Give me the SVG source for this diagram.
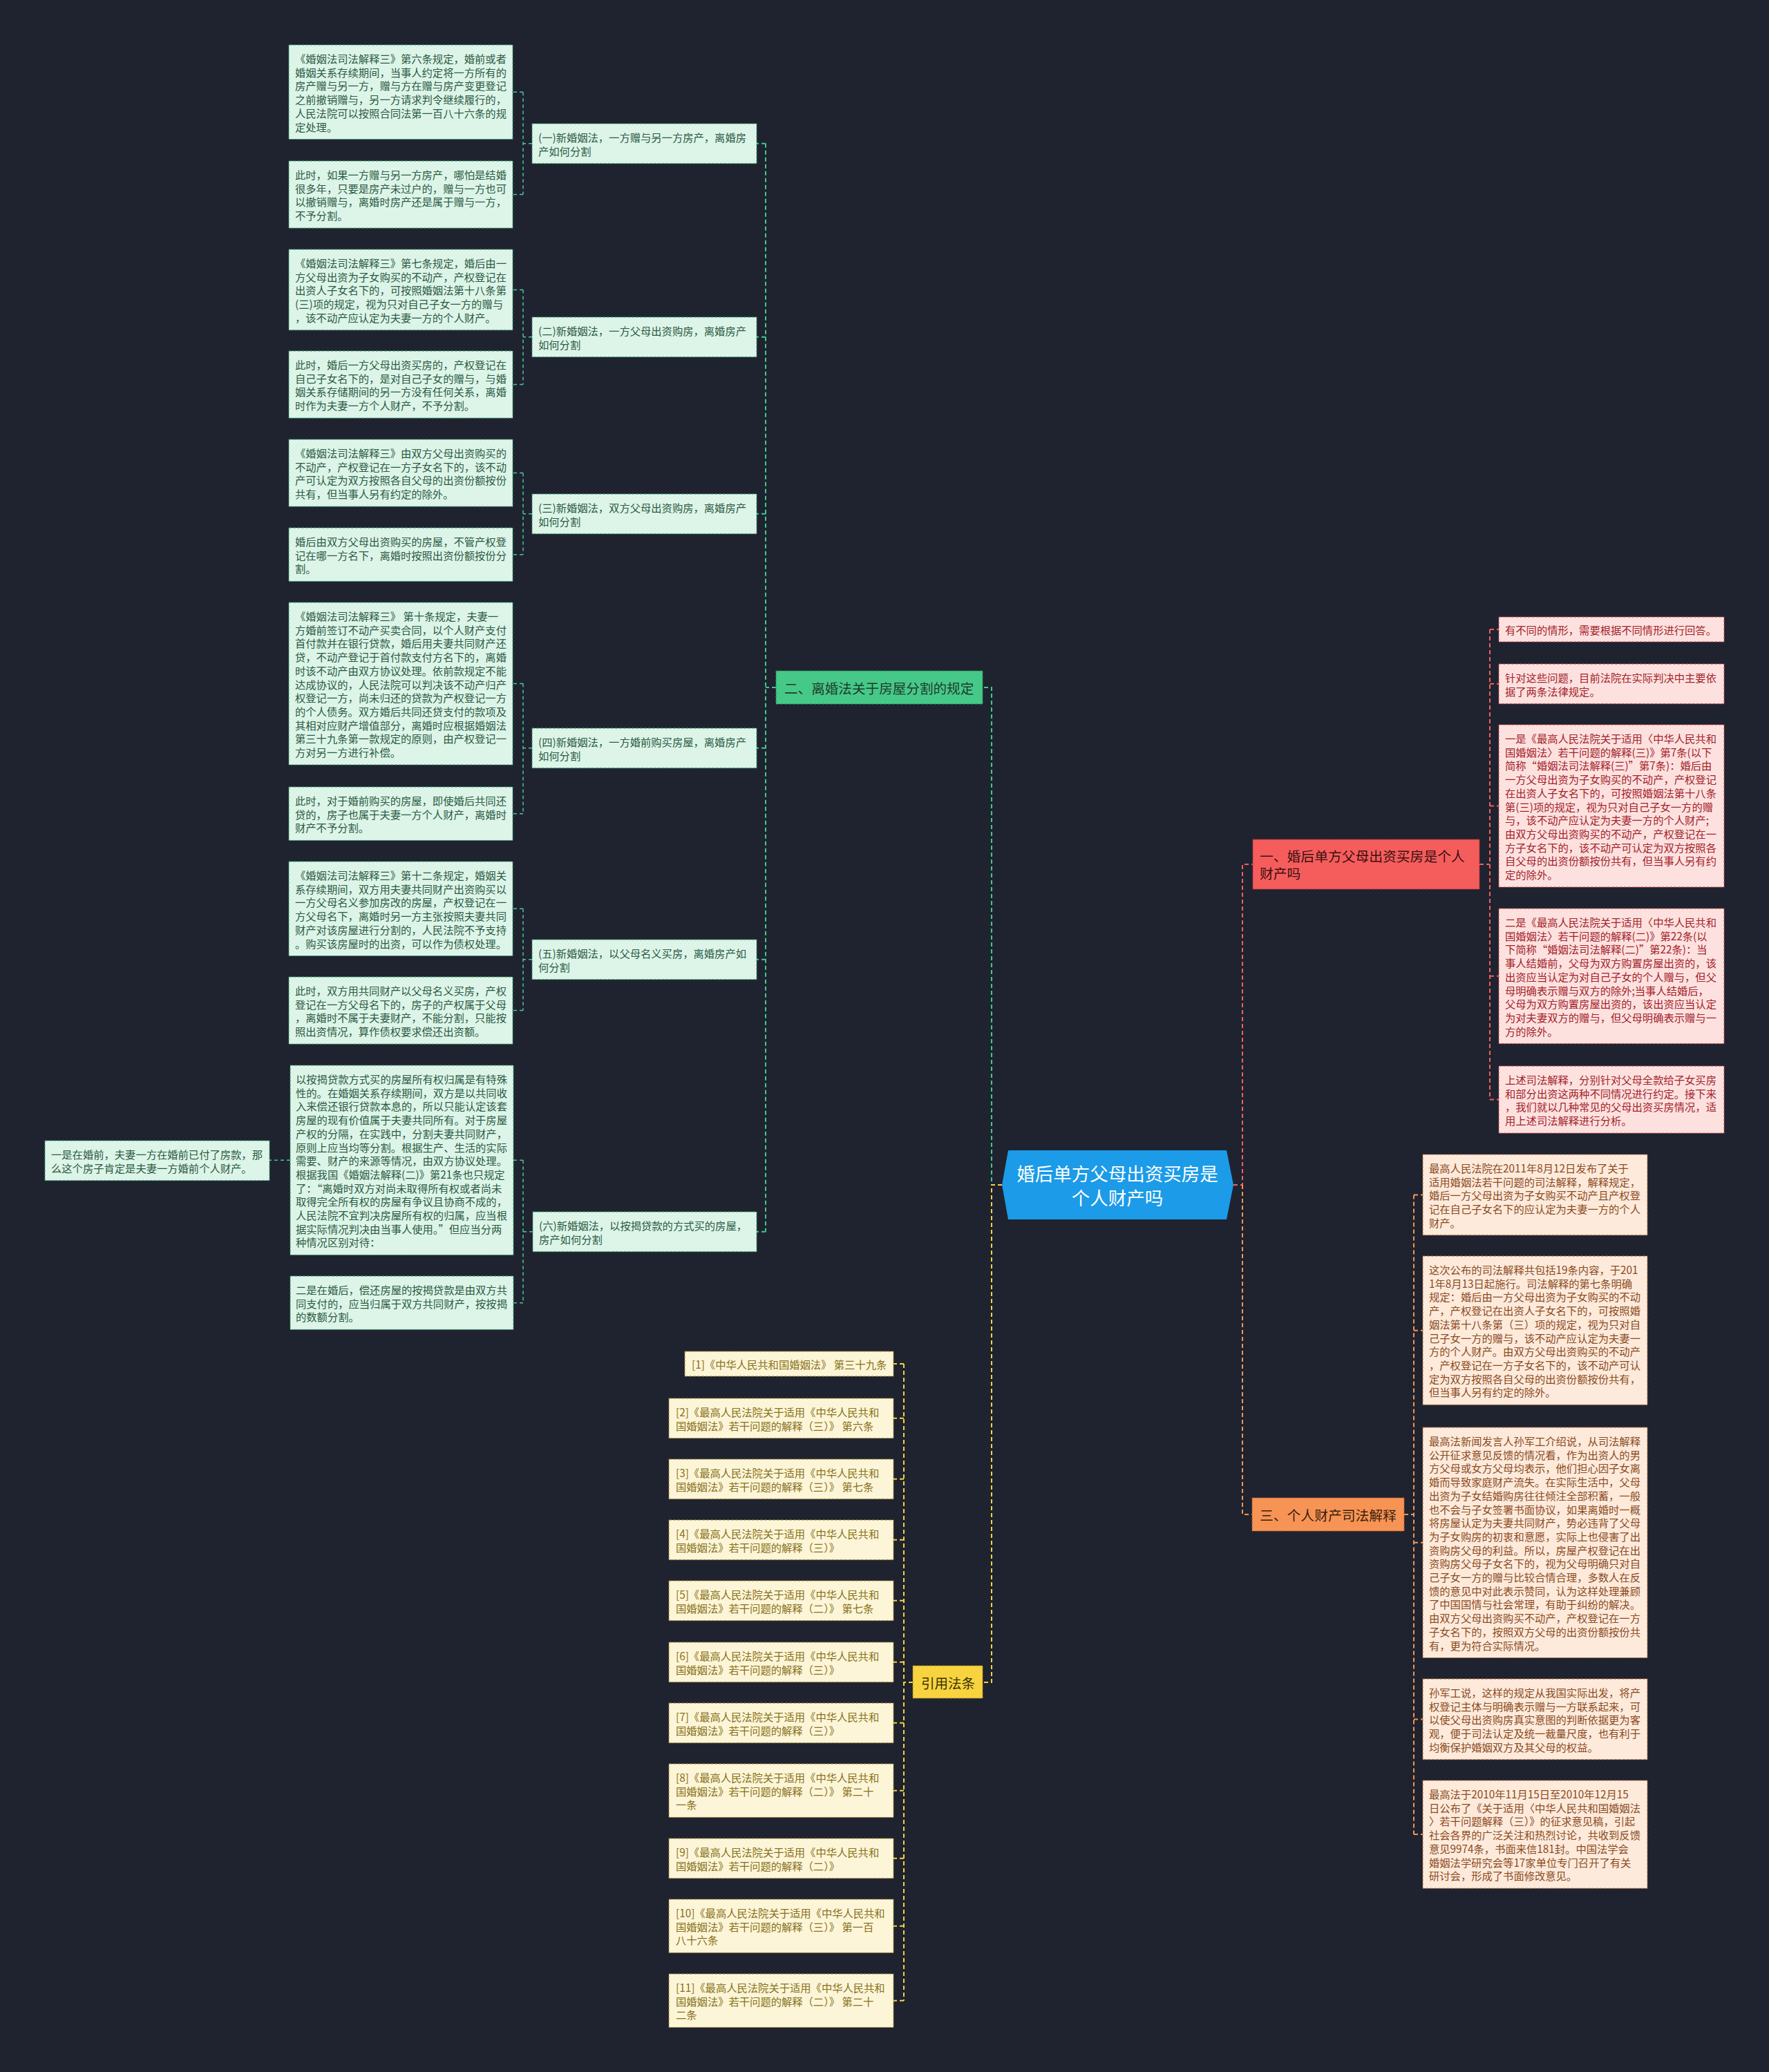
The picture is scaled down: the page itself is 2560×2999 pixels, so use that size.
<svg xmlns="http://www.w3.org/2000/svg" width="2560" height="2999" viewBox="0 0 2560 2999">
<style>
text{font-family:"Noto Sans CJK SC","Noto Sans",sans-serif;dominant-baseline:central}
.bg{fill:#1f2330}
.lg{fill:#dcf5e8;stroke:#3c9a6c;stroke-width:1;stroke-dasharray:4 2}
.lp{fill:#fde1df;stroke:#c8474a;stroke-width:1;stroke-dasharray:4 2}
.lo{fill:#fdeadb;stroke:#b0693a;stroke-width:1;stroke-dasharray:4 2}
.ly{fill:#fdf5d7;stroke:#9a8530;stroke-width:1;stroke-dasharray:4 2}
.tg{fill:#2d5943;font-size:15.3px}
.tp{fill:#a3222a;font-size:15.3px}
.to{fill:#8b4a1e;font-size:15.3px}
.ty{fill:#86711c;font-size:15.3px}
.c{fill:none;stroke-width:2;stroke-dasharray:6 4}
.cg{stroke:#3fca88}.cr{stroke:#f25f5c}.co{stroke:#f7954f}.cy{stroke:#f5d142}
.cl{fill:none;stroke-width:1.5;stroke-dasharray:5 4;stroke:#4ec592}
</style>
<rect class="bg" x="0" y="0" width="2560" height="2999"/>

<g id="connectors">
<path class="c cg" d="M1450 1715 H1435 V995 H1422"/>
<path class="c cg" d="M1123 995 H1108 M1108 207.85 V1782.85 M1108 207.85 H1095 M1108 487.85 H1095 M1108 743.85 H1095 M1108 1082.85 H1095 M1108 1388.85 H1095 M1108 1782.85 H1095"/>
<path class="cl" d="M770 207.85 H757 M757 133.25 V281.5 M757 133.25 H742 M757 281.5 H742"/>
<path class="cl" d="M770 487.85 H757 M757 419.4 V556.5 M757 419.4 H742 M757 556.5 H742"/>
<path class="cl" d="M770 743.85 H757 M757 684.5 V802.7 M757 684.5 H742 M757 802.7 H742"/>
<path class="cl" d="M770 1082.85 H757 M757 989.5 V1177.7 M757 989.5 H742 M757 1177.7 H742"/>
<path class="cl" d="M770 1388.85 H757 M757 1315.25 V1462.5 M757 1315.25 H742 M757 1462.5 H742"/>
<path class="cl" d="M771 1782.85 H757 M757 1679.2 V1885.7 M757 1679.2 H743 M757 1885.7 H743"/>
<path class="cl" d="M420 1679.2 H390"/>
<path class="c cr" d="M1785 1715 H1798 V1251 H1813"/>
<path class="c cr" d="M2141 1251 H2156 M2156 911 V1591.5 M2156 911 H2169 M2156 989.85 H2169 M2156 1166.5 H2169 M2156 1412.8 H2169 M2156 1591.5 H2169"/>
<path class="c co" d="M1798 1715 V2192 H1812"/>
<path class="c co" d="M2032 2192 H2046 M2046 1729.4 V2655.1 M2046 1729.4 H2059 M2046 1925.65 H2059 M2046 2232.75 H2059 M2046 2488.4 H2059 M2046 2655.1 H2059"/>
<path class="c cy" d="M1450 1715 H1435 V2435 H1422"/>
<path class="c cy" d="M1321 2435 H1308 M1308 1974 V2895.7 M1308 1974 H1293 M1308 2052.85 H1293 M1308 2140.85 H1293 M1308 2228.85 H1293 M1308 2316.85 H1293 M1308 2405.85 H1293 M1308 2493.85 H1293 M1308 2591.7 H1293 M1308 2689.85 H1293 M1308 2787.7 H1293 M1308 2895.7 H1293"/>
</g>

<g id="center">
<polygon points="1459,1665 1775,1665 1785,1715 1775,1765 1459,1765 1450,1715" fill="#1b9be8"/>
<text x="1617" y="1697" fill="#ffffff" font-size="26.5" text-anchor="middle">婚后单方父母出资买房是</text>
<text x="1617" y="1732" fill="#ffffff" font-size="26.5" text-anchor="middle">个人财产吗</text>
</g>

<g id="branch-2">
<rect x="1123" y="971" width="299" height="48" fill="#46c988" stroke="#2a8a5a" stroke-width="1" stroke-dasharray="4 2"/>
<text x="1135" y="995" fill="#1e3b2c" font-size="19.6">二、离婚法关于房屋分割的规定</text>
</g>
<g id="branch-1">
<rect x="1813" y="1215" width="328" height="72" fill="#f55d5d" stroke="#b03030" stroke-width="1" stroke-dasharray="4 2"/>
<text x="1823" y="1238" fill="#3b0f0f" font-size="19.8">一、婚后单方父母出资买房是个人</text>
<text x="1823" y="1263" fill="#3b0f0f" font-size="19.8">财产吗</text>
</g>
<g id="branch-3">
<rect x="1812" y="2168" width="220" height="48" fill="#f79455" stroke="#b05a25" stroke-width="1" stroke-dasharray="4 2"/>
<text x="1823" y="2192" fill="#3b1e0a" font-size="19.8">三、个人财产司法解释</text>
</g>
<g id="branch-ref">
<rect x="1321" y="2411" width="101" height="47" fill="#f7d43f" stroke="#a08a20" stroke-width="1" stroke-dasharray="4 2"/>
<text x="1333" y="2435" fill="#3b3005" font-size="19.5">引用法条</text>
</g>

<g id="m1"><rect class="lg" x="770" y="179" width="325" height="57.7"/>
<text class="tg"><tspan x="779" y="198">(一)新婚姻法，一方赠与另一方房产，离婚房</tspan><tspan x="779" y="217.7">产如何分割</tspan></text></g>
<g id="m2"><rect class="lg" x="770" y="459" width="325" height="57.7"/>
<text class="tg"><tspan x="779" y="478">(二)新婚姻法，一方父母出资购房，离婚房产</tspan><tspan x="779" y="497.7">如何分割</tspan></text></g>
<g id="m3"><rect class="lg" x="770" y="715" width="325" height="57.7"/>
<text class="tg"><tspan x="779" y="734">(三)新婚姻法，双方父母出资购房，离婚房产</tspan><tspan x="779" y="753.7">如何分割</tspan></text></g>
<g id="m4"><rect class="lg" x="770" y="1054" width="325" height="57.7"/>
<text class="tg"><tspan x="779" y="1073">(四)新婚姻法，一方婚前购买房屋，离婚房产</tspan><tspan x="779" y="1092.7">如何分割</tspan></text></g>
<g id="m5"><rect class="lg" x="770" y="1360" width="325" height="57.7"/>
<text class="tg"><tspan x="779" y="1379">(五)新婚姻法，以父母名义买房，离婚房产如</tspan><tspan x="779" y="1398.7">何分割</tspan></text></g>
<g id="m6"><rect class="lg" x="771" y="1754" width="324" height="57.7"/>
<text class="tg"><tspan x="780" y="1773">(六)新婚姻法，以按揭贷款的方式买的房屋，</tspan><tspan x="780" y="1792.7">房产如何分割</tspan></text></g>

<g id="l1"><rect class="lg" x="418" y="65" width="324" height="136.5"/>
<text class="tg"><tspan x="427" y="84">《婚姻法司法解释三》第六条规定，婚前或者</tspan><tspan x="427" y="103.7">婚姻关系存续期间，当事人约定将一方所有的</tspan><tspan x="427" y="123.4">房产赠与另一方，赠与方在赠与房产变更登记</tspan><tspan x="427" y="143.1">之前撤销赠与，另一方请求判令继续履行的，</tspan><tspan x="427" y="162.8">人民法院可以按照合同法第一百八十六条的规</tspan><tspan x="427" y="182.5">定处理。</tspan></text></g>
<g id="l2"><rect class="lg" x="418" y="233" width="324" height="97.1"/>
<text class="tg"><tspan x="427" y="252">此时，如果一方赠与另一方房产，哪怕是结婚</tspan><tspan x="427" y="271.7">很多年，只要是房产未过户的，赠与一方也可</tspan><tspan x="427" y="291.4">以撤销赠与，离婚时房产还是属于赠与一方，</tspan><tspan x="427" y="311.1">不予分割。</tspan></text></g>
<g id="l3"><rect class="lg" x="418" y="361" width="324" height="116.8"/>
<text class="tg"><tspan x="427" y="380">《婚姻法司法解释三》第七条规定，婚后由一</tspan><tspan x="427" y="399.7">方父母出资为子女购买的不动产，产权登记在</tspan><tspan x="427" y="419.4">出资人子女名下的，可按照婚姻法第十八条第</tspan><tspan x="427" y="439.1">(三)项的规定，视为只对自己子女一方的赠与</tspan><tspan x="427" y="458.8">，该不动产应认定为夫妻一方的个人财产。</tspan></text></g>
<g id="l4"><rect class="lg" x="418" y="508" width="324" height="97.1"/>
<text class="tg"><tspan x="427" y="527">此时，婚后一方父母出资买房的，产权登记在</tspan><tspan x="427" y="546.7">自己子女名下的，是对自己子女的赠与，与婚</tspan><tspan x="427" y="566.4">姻关系存储期间的另一方没有任何关系，离婚</tspan><tspan x="427" y="586.1">时作为夫妻一方个人财产，不予分割。</tspan></text></g>
<g id="l5"><rect class="lg" x="418" y="636" width="324" height="97.1"/>
<text class="tg"><tspan x="427" y="655">《婚姻法司法解释三》由双方父母出资购买的</tspan><tspan x="427" y="674.7">不动产，产权登记在一方子女名下的，该不动</tspan><tspan x="427" y="694.4">产可认定为双方按照各自父母的出资份额按份</tspan><tspan x="427" y="714.1">共有，但当事人另有约定的除外。</tspan></text></g>
<g id="l6"><rect class="lg" x="418" y="764" width="324" height="77.4"/>
<text class="tg"><tspan x="427" y="783">婚后由双方父母出资购买的房屋，不管产权登</tspan><tspan x="427" y="802.7">记在哪一方名下，离婚时按照出资份额按份分</tspan><tspan x="427" y="822.4">割。</tspan></text></g>
<g id="l7"><rect class="lg" x="418" y="872" width="324" height="235"/>
<text class="tg"><tspan x="427" y="891">《婚姻法司法解释三》 第十条规定，夫妻一</tspan><tspan x="427" y="910.7">方婚前签订不动产买卖合同，以个人财产支付</tspan><tspan x="427" y="930.4">首付款并在银行贷款，婚后用夫妻共同财产还</tspan><tspan x="427" y="950.1">贷，不动产登记于首付款支付方名下的，离婚</tspan><tspan x="427" y="969.8">时该不动产由双方协议处理。依前款规定不能</tspan><tspan x="427" y="989.5">达成协议的，人民法院可以判决该不动产归产</tspan><tspan x="427" y="1009.2">权登记一方，尚未归还的贷款为产权登记一方</tspan><tspan x="427" y="1028.9">的个人债务。双方婚后共同还贷支付的款项及</tspan><tspan x="427" y="1048.6">其相对应财产增值部分，离婚时应根据婚姻法</tspan><tspan x="427" y="1068.3">第三十九条第一款规定的原则，由产权登记一</tspan><tspan x="427" y="1088">方对另一方进行补偿。</tspan></text></g>
<g id="l8"><rect class="lg" x="418" y="1139" width="324" height="77.4"/>
<text class="tg"><tspan x="427" y="1158">此时，对于婚前购买的房屋，即使婚后共同还</tspan><tspan x="427" y="1177.7">贷的，房子也属于夫妻一方个人财产，离婚时</tspan><tspan x="427" y="1197.4">财产不予分割。</tspan></text></g>
<g id="l9"><rect class="lg" x="418" y="1247" width="324" height="136.5"/>
<text class="tg"><tspan x="427" y="1266">《婚姻法司法解释三》第十二条规定，婚姻关</tspan><tspan x="427" y="1285.7">系存续期间，双方用夫妻共同财产出资购买以</tspan><tspan x="427" y="1305.4">一方父母名义参加房改的房屋，产权登记在一</tspan><tspan x="427" y="1325.1">方父母名下，离婚时另一方主张按照夫妻共同</tspan><tspan x="427" y="1344.8">财产对该房屋进行分割的，人民法院不予支持</tspan><tspan x="427" y="1364.5">。购买该房屋时的出资，可以作为债权处理。</tspan></text></g>
<g id="l10"><rect class="lg" x="418" y="1414" width="324" height="97.1"/>
<text class="tg"><tspan x="427" y="1433">此时，双方用共同财产以父母名义买房，产权</tspan><tspan x="427" y="1452.7">登记在一方父母名下的，房子的产权属于父母</tspan><tspan x="427" y="1472.4">，离婚时不属于夫妻财产，不能分割，只能按</tspan><tspan x="427" y="1492.1">照出资情况，算作债权要求偿还出资额。</tspan></text></g>
<g id="l11"><rect class="lg" x="420" y="1542" width="323" height="274.4"/>
<text class="tg"><tspan x="428" y="1561">以按揭贷款方式买的房屋所有权归属是有特殊</tspan><tspan x="428" y="1580.7">性的。在婚姻关系存续期间，双方是以共同收</tspan><tspan x="428" y="1600.4">入来偿还银行贷款本息的，所以只能认定该套</tspan><tspan x="428" y="1620.1">房屋的现有价值属于夫妻共同所有。对于房屋</tspan><tspan x="428" y="1639.8">产权的分隔，在实践中，分割夫妻共同财产，</tspan><tspan x="428" y="1659.5">原则上应当均等分割。根据生产、生活的实际</tspan><tspan x="428" y="1679.2">需要、财产的来源等情况，由双方协议处理。</tspan><tspan x="428" y="1698.9">根据我国《婚姻法解释(二)》第21条也只规定</tspan><tspan x="428" y="1718.6">了：“离婚时双方对尚未取得所有权或者尚未</tspan><tspan x="428" y="1738.3">取得完全所有权的房屋有争议且协商不成的，</tspan><tspan x="428" y="1758">人民法院不宜判决房屋所有权的归属，应当根</tspan><tspan x="428" y="1777.7">据实际情况判决由当事人使用。”但应当分两</tspan><tspan x="428" y="1797.4">种情况区别对待：</tspan></text></g>
<g id="l12"><rect class="lg" x="420" y="1847" width="323" height="77.4"/>
<text class="tg"><tspan x="428" y="1866">二是在婚后，偿还房屋的按揭贷款是由双方共</tspan><tspan x="428" y="1885.7">同支付的，应当归属于双方共同财产，按按揭</tspan><tspan x="428" y="1905.4">的数额分割。</tspan></text></g>
<g id="l13"><rect class="lg" x="65" y="1651" width="325" height="57.7"/>
<text class="tg"><tspan x="74" y="1670">一是在婚前，夫妻一方在婚前已付了房款，那</tspan><tspan x="74" y="1689.7">么这个房子肯定是夫妻一方婚前个人财产。</tspan></text></g>

<g id="p1"><rect class="lp" x="2169" y="893" width="326" height="36"/>
<text class="tp"><tspan x="2178" y="911">有不同的情形，需要根据不同情形进行回答。</tspan></text></g>
<g id="p2"><rect class="lp" x="2169" y="961" width="326" height="57.7"/>
<text class="tp"><tspan x="2178" y="980">针对这些问题，目前法院在实际判决中主要依</tspan><tspan x="2178" y="999.7">据了两条法律规定。</tspan></text></g>
<g id="p3"><rect class="lp" x="2169" y="1049" width="326" height="235"/>
<text class="tp"><tspan x="2178" y="1068">一是《最高人民法院关于适用〈中华人民共和</tspan><tspan x="2178" y="1087.7">国婚姻法〉若干问题的解释(三)》第7条(以下</tspan><tspan x="2178" y="1107.4">简称“婚姻法司法解释(三)”第7条)：婚后由</tspan><tspan x="2178" y="1127.1">一方父母出资为子女购买的不动产，产权登记</tspan><tspan x="2178" y="1146.8">在出资人子女名下的，可按照婚姻法第十八条</tspan><tspan x="2178" y="1166.5">第(三)项的规定，视为只对自己子女一方的赠</tspan><tspan x="2178" y="1186.2">与，该不动产应认定为夫妻一方的个人财产;</tspan><tspan x="2178" y="1205.9">由双方父母出资购买的不动产，产权登记在一</tspan><tspan x="2178" y="1225.6">方子女名下的，该不动产可认定为双方按照各</tspan><tspan x="2178" y="1245.3">自父母的出资份额按份共有，但当事人另有约</tspan><tspan x="2178" y="1265">定的除外。</tspan></text></g>
<g id="p4"><rect class="lp" x="2169" y="1315" width="326" height="195.6"/>
<text class="tp"><tspan x="2178" y="1334">二是《最高人民法院关于适用〈中华人民共和</tspan><tspan x="2178" y="1353.7">国婚姻法〉若干问题的解释(二)》第22条(以</tspan><tspan x="2178" y="1373.4">下简称“婚姻法司法解释(二)”第22条)：当</tspan><tspan x="2178" y="1393.1">事人结婚前，父母为双方购置房屋出资的，该</tspan><tspan x="2178" y="1412.8">出资应当认定为对自己子女的个人赠与，但父</tspan><tspan x="2178" y="1432.5">母明确表示赠与双方的除外;当事人结婚后，</tspan><tspan x="2178" y="1452.2">父母为双方购置房屋出资的，该出资应当认定</tspan><tspan x="2178" y="1471.9">为对夫妻双方的赠与，但父母明确表示赠与一</tspan><tspan x="2178" y="1491.6">方的除外。</tspan></text></g>
<g id="p5"><rect class="lp" x="2169" y="1543" width="326" height="97.1"/>
<text class="tp"><tspan x="2178" y="1562">上述司法解释，分别针对父母全款给子女买房</tspan><tspan x="2178" y="1581.7">和部分出资这两种不同情况进行约定。接下来</tspan><tspan x="2178" y="1601.4">，我们就以几种常见的父母出资买房情况，适</tspan><tspan x="2178" y="1621.1">用上述司法解释进行分析。</tspan></text></g>

<g id="o1"><rect class="lo" x="2059" y="1671" width="325" height="116.8"/>
<text class="to"><tspan x="2068" y="1690">最高人民法院在2011年8月12日发布了关于</tspan><tspan x="2068" y="1709.7">适用婚姻法若干问题的司法解释，解释规定，</tspan><tspan x="2068" y="1729.4">婚后一方父母出资为子女购买不动产且产权登</tspan><tspan x="2068" y="1749.1">记在自己子女名下的应认定为夫妻一方的个人</tspan><tspan x="2068" y="1768.8">财产。</tspan></text></g>
<g id="o2"><rect class="lo" x="2059" y="1818" width="325" height="215.3"/>
<text class="to"><tspan x="2068" y="1837">这次公布的司法解释共包括19条内容，于201</tspan><tspan x="2068" y="1856.7">1年8月13日起施行。司法解释的第七条明确</tspan><tspan x="2068" y="1876.4">规定：婚后由一方父母出资为子女购买的不动</tspan><tspan x="2068" y="1896.1">产，产权登记在出资人子女名下的，可按照婚</tspan><tspan x="2068" y="1915.8">姻法第十八条第（三）项的规定，视为只对自</tspan><tspan x="2068" y="1935.5">己子女一方的赠与，该不动产应认定为夫妻一</tspan><tspan x="2068" y="1955.2">方的个人财产。由双方父母出资购买的不动产</tspan><tspan x="2068" y="1974.9">，产权登记在一方子女名下的，该不动产可认</tspan><tspan x="2068" y="1994.6">定为双方按照各自父母的出资份额按份共有，</tspan><tspan x="2068" y="2014.3">但当事人另有约定的除外。</tspan></text></g>
<g id="o3"><rect class="lo" x="2059" y="2066" width="325" height="333.5"/>
<text class="to"><tspan x="2068" y="2085">最高法新闻发言人孙军工介绍说，从司法解释</tspan><tspan x="2068" y="2104.7">公开征求意见反馈的情况看，作为出资人的男</tspan><tspan x="2068" y="2124.4">方父母或女方父母均表示，他们担心因子女离</tspan><tspan x="2068" y="2144.1">婚而导致家庭财产流失。在实际生活中，父母</tspan><tspan x="2068" y="2163.8">出资为子女结婚购房往往倾注全部积蓄，一般</tspan><tspan x="2068" y="2183.5">也不会与子女签署书面协议，如果离婚时一概</tspan><tspan x="2068" y="2203.2">将房屋认定为夫妻共同财产，势必违背了父母</tspan><tspan x="2068" y="2222.9">为子女购房的初衷和意愿，实际上也侵害了出</tspan><tspan x="2068" y="2242.6">资购房父母的利益。所以，房屋产权登记在出</tspan><tspan x="2068" y="2262.3">资购房父母子女名下的，视为父母明确只对自</tspan><tspan x="2068" y="2282">己子女一方的赠与比较合情合理，多数人在反</tspan><tspan x="2068" y="2301.7">馈的意见中对此表示赞同，认为这样处理兼顾</tspan><tspan x="2068" y="2321.4">了中国国情与社会常理，有助于纠纷的解决。</tspan><tspan x="2068" y="2341.1">由双方父母出资购买不动产，产权登记在一方</tspan><tspan x="2068" y="2360.8">子女名下的，按照双方父母的出资份额按份共</tspan><tspan x="2068" y="2380.5">有，更为符合实际情况。</tspan></text></g>
<g id="o4"><rect class="lo" x="2059" y="2430" width="325" height="116.8"/>
<text class="to"><tspan x="2068" y="2449">孙军工说，这样的规定从我国实际出发，将产</tspan><tspan x="2068" y="2468.7">权登记主体与明确表示赠与一方联系起来，可</tspan><tspan x="2068" y="2488.4">以使父母出资购房真实意图的判断依据更为客</tspan><tspan x="2068" y="2508.1">观，便于司法认定及统一裁量尺度，也有利于</tspan><tspan x="2068" y="2527.8">均衡保护婚姻双方及其父母的权益。</tspan></text></g>
<g id="o5"><rect class="lo" x="2059" y="2577" width="325" height="156.2"/>
<text class="to"><tspan x="2068" y="2596">最高法于2010年11月15日至2010年12月15</tspan><tspan x="2068" y="2615.7">日公布了《关于适用〈中华人民共和国婚姻法</tspan><tspan x="2068" y="2635.4">〉若干问题解释（三）》的征求意见稿，引起</tspan><tspan x="2068" y="2655.1">社会各界的广泛关注和热烈讨论，共收到反馈</tspan><tspan x="2068" y="2674.8">意见9974条，书面来信181封。中国法学会</tspan><tspan x="2068" y="2694.5">婚姻法学研究会等17家单位专门召开了有关</tspan><tspan x="2068" y="2714.2">研讨会，形成了书面修改意见。</tspan></text></g>

<g id="r1"><rect class="ly" x="991" y="1956" width="302" height="36"/>
<text class="ty"><tspan x="1001" y="1974">[1]《中华人民共和国婚姻法》 第三十九条</tspan></text></g>
<g id="r2"><rect class="ly" x="968" y="2024" width="325" height="57.7"/>
<text class="ty"><tspan x="978" y="2043">[2]《最高人民法院关于适用《中华人民共和</tspan><tspan x="978" y="2062.7">国婚姻法》若干问题的解释（三）》 第六条</tspan></text></g>
<g id="r3"><rect class="ly" x="968" y="2112" width="325" height="57.7"/>
<text class="ty"><tspan x="978" y="2131">[3]《最高人民法院关于适用《中华人民共和</tspan><tspan x="978" y="2150.7">国婚姻法》若干问题的解释（三）》 第七条</tspan></text></g>
<g id="r4"><rect class="ly" x="968" y="2200" width="325" height="57.7"/>
<text class="ty"><tspan x="978" y="2219">[4]《最高人民法院关于适用《中华人民共和</tspan><tspan x="978" y="2238.7">国婚姻法》若干问题的解释（三）》</tspan></text></g>
<g id="r5"><rect class="ly" x="968" y="2288" width="325" height="57.7"/>
<text class="ty"><tspan x="978" y="2307">[5]《最高人民法院关于适用《中华人民共和</tspan><tspan x="978" y="2326.7">国婚姻法》若干问题的解释（二）》 第七条</tspan></text></g>
<g id="r6"><rect class="ly" x="968" y="2377" width="325" height="57.7"/>
<text class="ty"><tspan x="978" y="2396">[6]《最高人民法院关于适用《中华人民共和</tspan><tspan x="978" y="2415.7">国婚姻法》若干问题的解释（三）》</tspan></text></g>
<g id="r7"><rect class="ly" x="968" y="2465" width="325" height="57.7"/>
<text class="ty"><tspan x="978" y="2484">[7]《最高人民法院关于适用《中华人民共和</tspan><tspan x="978" y="2503.7">国婚姻法》若干问题的解释（三）》</tspan></text></g>
<g id="r8"><rect class="ly" x="968" y="2553" width="325" height="77.4"/>
<text class="ty"><tspan x="978" y="2572">[8]《最高人民法院关于适用《中华人民共和</tspan><tspan x="978" y="2591.7">国婚姻法》若干问题的解释（二）》 第二十</tspan><tspan x="978" y="2611.4">一条</tspan></text></g>
<g id="r9"><rect class="ly" x="968" y="2661" width="325" height="57.7"/>
<text class="ty"><tspan x="978" y="2680">[9]《最高人民法院关于适用《中华人民共和</tspan><tspan x="978" y="2699.7">国婚姻法》若干问题的解释（二）》</tspan></text></g>
<g id="r10"><rect class="ly" x="968" y="2749" width="325" height="77.4"/>
<text class="ty"><tspan x="978" y="2768">[10]《最高人民法院关于适用《中华人民共和</tspan><tspan x="978" y="2787.7">国婚姻法》若干问题的解释（三）》 第一百</tspan><tspan x="978" y="2807.4">八十六条</tspan></text></g>
<g id="r11"><rect class="ly" x="968" y="2857" width="325" height="77.4"/>
<text class="ty"><tspan x="978" y="2876">[11]《最高人民法院关于适用《中华人民共和</tspan><tspan x="978" y="2895.7">国婚姻法》若干问题的解释（二）》 第二十</tspan><tspan x="978" y="2915.4">二条</tspan></text></g>
</svg>
